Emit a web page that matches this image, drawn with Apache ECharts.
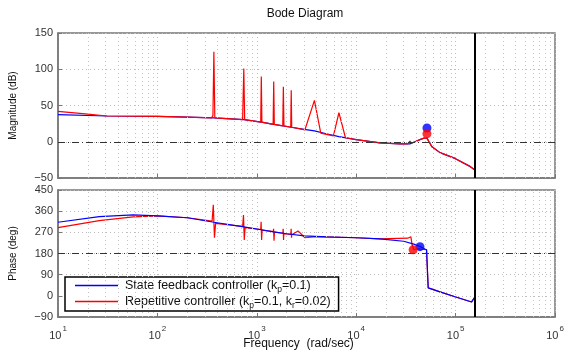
<!DOCTYPE html>
<html>
<head>
<meta charset="utf-8">
<script src="https://cdn.jsdelivr.net/npm/echarts@6/dist/echarts.min.js"></script>
<style>
  html, body { margin: 0; padding: 0; background: #fff; }
  #chart { width: 567px; height: 352px; }
</style>
</head>
<body>
<div id="chart"></div>
<script>
// values: [frequency (rad/s), value]
const magState = [
  [10, 37.5], [31, 35.5], [100, 35], [200, 34], [370, 33], [740, 30.5], [1110, 27],
  [1480, 24], [2220, 20], [3000, 17], [3800, 15], [5000, 11], [6700, 7], [10000, 3],
  [17300, -1.5], [27500, -3], [34700, -3], [39000, 0], [43800, 3], [48000, 5],
  [51500, 5], [54000, 0], [57900, -7], [69700, -15], [98600, -23], [139600, -34], [156700, -39]
];
const magRepet = [
  [10, 42], [20, 38], [31, 35.5], [100, 35], [200, 34], [350, 33], [362, 36], [370, 124], [378, 33],
  [720, 30.5], [740, 101], [755, 30.5], [1095, 27], [1110, 90], [1125, 27],
  [1460, 24], [1480, 83], [1500, 24], [1825, 22], [1850, 76], [1875, 22],
  [2195, 20], [2220, 71], [2245, 20], [3050, 16.5], [3800, 57], [4400, 12],
  [5900, 8], [6700, 40], [7800, 5.5], [10000, 3], [17300, -1.5], [27500, -3],
  [33000, -3], [34700, 1], [36000, -2], [39000, 0], [43800, 3], [48000, 5], [51500, 5],
  [54000, 0], [57900, -7], [69700, -15], [98600, -23], [139600, -34], [156700, -39]
];
const phaseState = [
  [10, 313], [26, 337], [57, 344], [100, 340], [200, 332], [370, 313], [740, 293],
  [1110, 281], [1480, 272], [2000, 264], [3000, 255], [5000, 251], [10000, 247],
  [17300, 242], [30000, 232], [38000, 220], [43800, 210], [51000, 196], [53000, 34],
  [69700, 17], [98600, -4], [145000, -26], [156700, -4]
];
const phaseRepet = [
  [10, 290], [26, 320], [57, 336], [100, 340], [200, 332], [355, 318], [365, 387], [375, 247], [385, 308],
  [720, 295], [735, 344], [748, 238], [762, 290], [1095, 282], [1105, 315], [1118, 238], [1130, 279],
  [1465, 273], [1475, 285], [1490, 234], [1505, 271], [1830, 266], [1842, 285], [1858, 238], [1870, 264],
  [2200, 261], [2215, 285], [2235, 247], [2250, 260], [2600, 276], [3050, 247], [4000, 252],
  [10000, 247], [17300, 242], [33000, 245], [35500, 251], [36500, 217], [38000, 196], [41000, 200],
  [51000, 196], [53000, 34], [69700, 17], [98600, -4], [145000, -26], [156700, -4]
];
const peakMagState = [[51500, 19]];
const peakMagRepet = [[51500, 11]];
const peakPhaseState = [[43800, 209]];
const peakPhaseRepet = [[37400, 196]];
const nyquist = 157000;
const legendNames = ['State feedback controller', 'Repetitive controller'];
const legendLabels = {
  'State feedback controller': 'State feedback controller (k{s|p}=0.1)',
  'Repetitive controller': 'Repetitive controller (k{s|p}=0.1, k{s|r}=0.02)'
};

const font = '"Liberation Sans", Arial, sans-serif';
const minorX = [];
for (let d = 10; d < 1e6; d *= 10) {
  for (let k = 2; k <= 9; k++) minorX.push(d * k);
}

function guideLines(refY) {
  return {
    silent: true,
    symbol: ['none', 'none'],
    animation: false,
    label: { show: false },
    data: [
      ...minorX.map(v => ({ xAxis: v, lineStyle: { color: '#c4c4c4', type: [1, 3], width: 1 } })),
      { yAxis: refY, lineStyle: { color: '#333', type: [7, 3, 1, 3], width: 1 } },
      { xAxis: nyquist, lineStyle: { color: '#000', type: 'solid', width: 2 } }
    ]
  };
}

const xBase = {
  type: 'log', logBase: 10, min: 10, max: 1e6, interval: 1,
  axisLine: { onZero: false, lineStyle: { color: '#777', width: 1.5 } },
  axisTick: { inside: true, length: 4, lineStyle: { color: '#777' } },
  splitLine: { show: true, lineStyle: { color: '#bbb', type: [1, 3] } }
};
const yBase = {
  type: 'value',
  axisLine: { show: true, onZero: false, lineStyle: { color: '#777', width: 1.5 } },
  axisTick: { show: true, inside: true, length: 4, lineStyle: { color: '#777' } },
  splitLine: { show: true, lineStyle: { color: '#bbb', type: [1, 3] } },
  axisLabel: { fontSize: 11, color: '#333', fontFamily: font, margin: 5,
    formatter: v => String(v).replace('-', '\u2212') },
  nameLocation: 'middle', nameGap: 40, nameMoveOverlap: false,
  nameTextStyle: { fontSize: 10, color: '#111', fontFamily: font }
};

const chart = echarts.init(document.getElementById('chart'));
chart.setOption({
  animation: false,
  title: {
    text: 'Bode Diagram', left: 300, top: 3, textAlign: 'center',
    textStyle: { fontSize: 12, fontWeight: 'normal', color: '#111', fontFamily: font }
  },
  legend: {
    data: legendNames, orient: 'vertical', left: 65, top: 277,
    icon: 'rect', itemWidth: 43, itemHeight: 1.5,
    backgroundColor: '#fff', borderColor: '#000', borderWidth: 1.5, borderRadius: 0,
    padding: [2, 8, 1, 10], itemGap: 1,
    formatter: n => legendLabels[n],
    textStyle: { fontSize: 12.5, color: '#111', fontFamily: font, padding: [0, 0, 0, 2],
      rich: { s: { fontSize: 8.5, fontFamily: font, color: '#111', padding: [8, 0, 0, 0] } } }
  },
  grid: [
    { left: 58, right: 12, top: 33, height: 145, show: true, borderColor: '#777', borderWidth: 1.5,
      containLabel: false, outerBoundsMode: 'none' },
    { left: 58, right: 12, top: 190, height: 127, show: true, borderColor: '#777', borderWidth: 1.5,
      containLabel: false, outerBoundsMode: 'none' }
  ],
  xAxis: [
    Object.assign({}, xBase, { gridIndex: 0, axisLabel: { show: false } }),
    Object.assign({}, xBase, {
      gridIndex: 1,
      name: 'Frequency  (rad/sec)', nameLocation: 'middle', nameGap: 21, nameMoveOverlap: false,
      nameTextStyle: { fontSize: 12, color: '#111', fontFamily: font, padding: [0, 16, 0, 0] },
      axisLabel: {
        fontSize: 11, color: '#333', fontFamily: font, margin: 8,
        formatter: v => '10{e|' + Math.round(Math.log10(v)) + '}',
        rich: { e: { fontSize: 8, color: '#333', fontFamily: font, padding: [0, 0, 14, 1] } }
      }
    })
  ],
  yAxis: [
    Object.assign({}, yBase, { gridIndex: 0, min: -50, max: 150, interval: 50, name: 'Magnitude (dB)' }),
    Object.assign({}, yBase, { gridIndex: 1, min: -90, max: 450, interval: 90, name: 'Phase (deg)' })
  ],
  series: [
    { name: legendNames[0], type: 'line', xAxisIndex: 0, yAxisIndex: 0, data: magState,
      symbol: 'none', lineStyle: { color: '#0000ff', width: 1.2 }, itemStyle: { color: '#0000ff' },
      markLine: guideLines(0), z: 3 },
    { name: legendNames[1], type: 'line', xAxisIndex: 0, yAxisIndex: 0, data: magRepet,
      symbol: 'none', lineStyle: { color: '#ff0000', width: 1.2 }, itemStyle: { color: '#ff0000' }, z: 4 },
    { name: legendNames[1], type: 'line', xAxisIndex: 1, yAxisIndex: 1, data: phaseRepet,
      symbol: 'none', lineStyle: { color: '#ff0000', width: 1.2 }, itemStyle: { color: '#ff0000' },
      markLine: guideLines(180), z: 3 },
    { name: legendNames[0], type: 'line', xAxisIndex: 1, yAxisIndex: 1, data: phaseState,
      symbol: 'none', lineStyle: { color: '#0000ff', width: 1.2 }, itemStyle: { color: '#0000ff' }, z: 4 },
    { name: 'peakMagState', type: 'scatter', xAxisIndex: 0, yAxisIndex: 0, data: peakMagState,
      symbolSize: 9, itemStyle: { color: '#0000ff' }, z: 5 },
    { name: 'peakMagRepet', type: 'scatter', xAxisIndex: 0, yAxisIndex: 0, data: peakMagRepet,
      symbolSize: 9, itemStyle: { color: '#ff0000' }, z: 6 },
    { name: 'peakPhaseState', type: 'scatter', xAxisIndex: 1, yAxisIndex: 1, data: peakPhaseState,
      symbolSize: 9, itemStyle: { color: '#0000ff' }, z: 5 },
    { name: 'peakPhaseRepet', type: 'scatter', xAxisIndex: 1, yAxisIndex: 1, data: peakPhaseRepet,
      symbolSize: 9, itemStyle: { color: '#ff0000' }, z: 6 }
  ]
});
</script>
</body>
</html>
